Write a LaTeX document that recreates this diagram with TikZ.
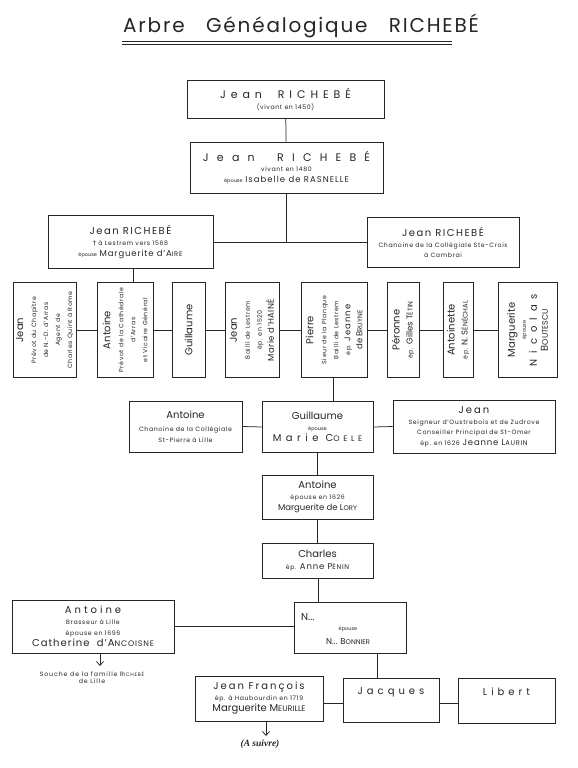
\documentclass[tikz,border=0pt]{standalone}
\usepackage{fontspec}
\setmainfont{Poppins}
\newfontfamily\djv{DejaVu Sans}
\newfontfamily\serifit{Liberation Serif}
\usetikzlibrary{arrows.meta}
\definecolor{ink}{HTML}{262626}
\newcommand\trk[1]{\addfontfeature{LetterSpace=#1}}
\newcommand\fsc[2]{#1\scalebox{0.8}{#2}}
\newcommand\fT{\fontsize{20}{22}\selectfont}
\newcommand\fN{\fontsize{10}{11}\selectfont}
\newcommand\fL{\fontsize{11}{13}\selectfont}
\newcommand\fM{\fontsize{8.5}{10}\selectfont}
\newcommand\fS{\fontsize{6.2}{8.5}\selectfont\trk{10}}
\newcommand\fX{\fontsize{5}{6}\selectfont}
\begin{document}
\begin{tikzpicture}[x=1pt,y=-1pt,
 box/.style={draw=ink, line width=0.75pt, inner sep=0pt, text=ink, align=center},
 conn/.style={draw=ink, line width=0.75pt},
 vtxt/.style={rotate=90, text=ink, align=center, inner sep=0pt},
 txt/.style={text=ink, inner sep=0pt, align=center},
 arr/.style={conn, -{Straight Barb[length=4pt,width=7pt]}}]
\fill[white] (0,0) rectangle (578,768);
\useasboundingbox (0,0) rectangle (578,768);
% title
\node[txt, anchor=base west, font=\fT\trk{9}] (title) at (123,33) {Arbre\ \ \ Généalogique\ \ \ RICHEBÉ};
\draw[conn, line width=0.6pt] (122,41.5) -- (452,41.5);
\draw[conn, line width=0.6pt] (122,44) -- (452,44);
% generation 1-2
\node[box, minimum width=197, minimum height=38] (b1) at (285.5,99)
 {{\fL\trk{45}Jean\ \ RICHEBÉ}\\[-1pt]{\fS (vivant en 1450)}};
\node[box, minimum width=193, minimum height=51] (b2) at (286.5,167.5)
 {{\fL\trk{75}Jean\ \ RICHEBÉ}\\[-2pt]{\fS vivant en 1480}\\[-1pt]{\fX épouse} {\fM\trk{12}Isabelle de RASNELLE}};
% generation 3
\node[box, minimum width=165, minimum height=53] (b3l) at (130.5,242)
 {{\fN\trk{15}Jean\ RICHEBÉ}\\[-1pt]{\fS{\djv\fontsize{6.5}{7}\selectfont †} à Lestrem vers 1568}\\[-1pt]{\fX épouse} {\fM\trk{10}Marguerite d'\fsc{A}{IRE}}};
\node[box, minimum width=152, minimum height=50] (b3r) at (443,242)
 {{\fN\trk{15}Jean\ RICHEBÉ}\\[-1pt]{\fS Chanoine de la Collégiale Ste-Croix}\\[-2pt]{\fS à Cambrai}};
\coordinate (j23) at (b2.south |- b3l.east);
\draw[conn] (b1) -- (b2);
\draw[conn] (b3l.east) -- (b3r.west);
\draw[conn] (b2.south) -- (j23);
% generation 4 (vertical boxes)
\node[box, minimum width=63, minimum height=95] (r4a) at (44.5,330) {};
\node[box, minimum width=56, minimum height=95] (r4b) at (125,330) {};
\node[box, minimum width=33, minimum height=95] (r4c) at (188.5,330) {};
\node[box, minimum width=54, minimum height=95] (r4d) at (252,330) {};
\node[box, minimum width=66, minimum height=95] (r4e) at (334,330) {};
\node[box, minimum width=32, minimum height=95] (r4f) at (403,330) {};
\node[box, minimum width=30, minimum height=95] (r4g) at (458,330) {};
\node[box, minimum width=59, minimum height=95] (r4h) at (527.5,330) {};
\node[vtxt] (t4a) at (r4a) {{\fN Jean}\\[1pt]{\fS Prévot du Chapitre}\\{\fS de N.-D. d'Arras}\\{\fS Agent de}\\{\fS Charles Quint à Rome}};
\node[vtxt] (t4b) at (r4b) {{\fN Antoine}\\[1pt]{\fS Prévot de la Cathédrale}\\{\fS d'Arras}\\{\fS et Vicaire Général}};
\node[vtxt] (t4c) at (r4c) {{\fN Guillaume}};
\node[vtxt] (t4d) at (r4d) {{\fN Jean}\\[1pt]{\fS Bailli de Lestrem}\\{\fS ép. en 1520}\\{\fM\trk{5}Marie d'HAINÉ}};
\node[vtxt] (t4e) at (r4e) {{\fN Pierre}\\[1pt]{\fS Sieur de la Planque}\\{\fS Bailli de Lestrem}\\{\fS ép.} {\fM\trk{12}Jeanne}\\{\fM de \fsc{B}{RUYNE}}};
\node[vtxt] (t4f) at (r4f) {{\fN Péronne}\\[1pt]{\fS ép.} {\fM Gilles \fsc{T}{ÉTIN}}};
\node[vtxt] (t4g) at (r4g) {{\fN Antoinette}\\[1pt]{\fS ép.} {\fM N. \fsc{S}{ÉNÉCHAL}}};
\node[vtxt] (t4h) at (r4h) {{\fN Marguerite}\\[-1pt]{\fX épouse}\\[-1pt]{\fN\trk{60}Nicolas}\\[-1pt]{\fN\fsc{B}{OUTESCU}}};
\coordinate (j34) at (133,0 |- b3l.south);
\coordinate (j34b) at (133,0 |- r4b.north);
\draw[conn] (j34) -- (j34b);
\draw[conn] (r4a.east) -- (r4b.west);
\draw[conn] (r4b.east) -- (r4c.west);
\draw[conn] (r4c.east) -- (r4d.west);
\draw[conn] (r4d.east) -- (r4e.west);
\draw[conn] (r4e.east) -- (r4f.west);
\draw[conn] (r4f.east) -- (r4g.west);
\draw[conn] (r4g.east) -- (r4h.west);
% generation 5
\node[box, minimum width=113, minimum height=51] (r5a) at (185.5,426.5)
 {{\fN Antoine}\\[1pt]{\fS Chanoine de la Collégiale}\\[-1pt]{\fS St-Pierre à Lille}};
\node[box, minimum width=111, minimum height=51] (r5b) at (317.5,427)
 {{\fN Guillaume}\\[-1pt]{\fX épouse}\\[-1pt]{\fN\trk{45}Marie\ \fsc{C}{OELE}}};
\node[box, minimum width=162, minimum height=53] (r5c) at (474,426.5)
 {{\fN\trk{20}Jean}\\[-1pt]{\fS Seigneur d'Oustrebois et de Zudrove}\\[-2pt]{\fS Conseiller Principal de St-Omer}\\[-1pt]{\fS ép. en 1626} {\fM\trk{10}Jeanne \fsc{L}{AURIN}}};
\coordinate (j45) at (333,0 |- r4e.south);
\coordinate (j45b) at (333,0 |- r5b.north);
\draw[conn] (j45) -- (j45b);
\draw[conn] (r5a.east) -- (r5b.west);
\draw[conn] (r5b.east) -- (r5c.west);
% generations 6-7
\node[box, minimum width=111, minimum height=44] (r6) at (317.5,497)
 {{\fN Antoine}\\[-1pt]{\fS épouse en 1626}\\[-1pt]{\fM Marguerite de \fsc{L}{ORY}}};
\node[box, minimum width=111, minimum height=35] (r7) at (317.5,560.5)
 {{\fN Charles}\\[0pt]{\fS ép.} {\fM\trk{10}Anne \fsc{P}{ÉNIN}}};
\draw[conn] (r5b) -- (r6);
\draw[conn] (r6) -- (r7);
% generation 8
\node[box, minimum width=162, minimum height=53] (r8a) at (93,626.5)
 {{\fN\trk{30}Antoine}\\[-1pt]{\fS Brasseur à Lille}\\[-1pt]{\fS épouse en 1696}\\[-1pt]{\fN\trk{10}Catherine\ \ d'\fsc{A}{NCOISNE}}};
\node[box, minimum width=112, minimum height=51] (r8b) at (350,627.5) {};
\node[txt, anchor=base west, font=\fN] (r8bn) at (301,620) {N...};
\node[txt, font=\fX] (r8be) at (348,629) {épouse};
\node[txt, font=\fM] (r8bs) at (348,642) {N... \fsc{B}{ONNIER}};
\coordinate (j78) at (318,0 |- r7.south);
\coordinate (j78b) at (318,0 |- r8b.north);
\draw[conn] (j78) -- (j78b);
\draw[conn] (r8a.east) -- (r8a.east -| r8b.west);
\coordinate (souA) at (100,0 |- r8a.south);
\coordinate (souB) at (100,666);
\draw[arr] (souA) -- (souB);
\node[txt, font=\fS\trk{15}] (souche) at (92,677.5) {Souche de la famille \fsc{R}{ICHEBÉ}\\[-1pt]de Lille};
% generation 9
\node[box, minimum width=128, minimum height=45] (r9a) at (259,698.5)
 {{\fN\trk{20}Jean François}\\[-1pt]{\fS ép. à Haubourdin en 1719}\\[-1pt]{\fN Marguerite \fsc{M}{EURILLE}}};
\node[box, minimum width=96, minimum height=44] (r9b) at (391,700) {};
\node[box, minimum width=97, minimum height=45] (r9c) at (506.5,700.5) {};
\node[txt, font=\fN\trk{40}] (r9bt) at (391,692) {Jacques};
\node[txt, font=\fN\trk{40}] (r9ct) at (506.5,692) {Libert};
\coordinate (j89) at (377,0 |- r8b.south);
\coordinate (j89b) at (377,0 |- r9b.north);
\draw[conn] (j89) -- (j89b);
\draw[conn] (r9a.east |- 0,703) -- (r9b.west |- 0,703);
\draw[conn] (r9b.east |- 0,703) -- (r9c.west |- 0,703);
\coordinate (suiA) at (266,0 |- r9a.south);
\coordinate (suiB) at (266,736);
\draw[arr] (suiA) -- (suiB);
\node[txt, font=\serifit\bfseries\itshape\fontsize{9.5}{10}\selectfont] (suivre) at (260,744) {(A suivre)};
\end{tikzpicture}
\end{document}
